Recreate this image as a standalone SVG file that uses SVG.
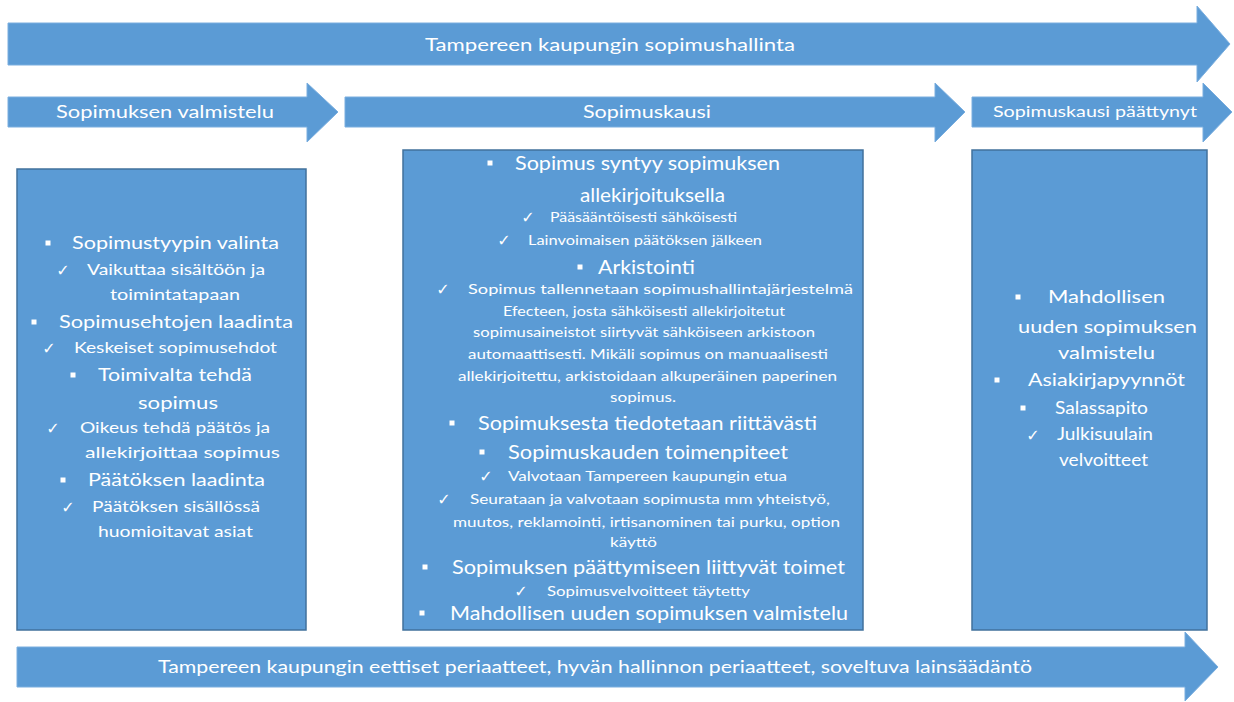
<svg xmlns="http://www.w3.org/2000/svg" width="1234" height="702" viewBox="0 0 1234 702">
<style>
.arr{fill:#5b9bd5;stroke:#7aaedf;stroke-width:1}
.box{fill:#5b9bd5;stroke:#41719c;stroke-width:1.5}
text{font-family:Lato,"Liberation Sans",sans-serif;fill:#fff}
.h{font-size:18px}
.m{font-size:18px}
.s{font-size:16px}
.m2{font-size:20px}
.s2{font-size:14px}
.m3{font-size:17px}
.ck{font-family:"DejaVu Sans",sans-serif;font-size:16px;text-anchor:middle}
.b{fill:#fff}
</style>
<defs>
<rect id="bul" x="-2.5" y="-2.5" width="5" height="5" class="b"/>
</defs>
<rect width="1234" height="702" fill="#fff"/>
<g id="connectors">
<polygon id="a-top" class="arr" points="8,23 1197,23 1197,6 1230,44 1197,82 1197,65 8,65"/>
<polygon id="a-valm" class="arr" points="8,97 307,97 307,83 338,112 307,142 307,127 8,127"/>
<polygon id="a-kausi" class="arr" points="345,97 935,97 935,83 965,112 935,142 935,127 345,127"/>
<polygon id="a-paat" class="arr" points="972,97 1203,97 1203,83 1232,112 1203,142 1203,127 972,127"/>
<polygon id="a-bottom" class="arr" points="17,647 1185,647 1185,632 1218,667 1185,701 1185,687 17,687"/>
</g>
<g id="arrow-labels">
<text class="h" x="425" y="51" textLength="370" lengthAdjust="spacingAndGlyphs">Tampereen kaupungin sopimushallinta</text>
<text class="h" x="56" y="118" textLength="218" lengthAdjust="spacingAndGlyphs">Sopimuksen valmistelu</text>
<text class="h" x="583" y="118" textLength="128" lengthAdjust="spacingAndGlyphs">Sopimuskausi</text>
<text style="font-size:15px" x="993" y="117" textLength="204" lengthAdjust="spacingAndGlyphs">Sopimuskausi päättynyt</text>
<text class="h" x="158" y="673" textLength="874" lengthAdjust="spacingAndGlyphs">Tampereen kaupungin eettiset periaatteet, hyvän hallinnon periaatteet, soveltuva lainsäädäntö</text>
</g>
<g id="box-valmistelu">
<rect class="box" x="17" y="169" width="289" height="461"/>
<use href="#bul" x="48" y="243"/>
<text class="m" x="72" y="249" textLength="207" lengthAdjust="spacingAndGlyphs">Sopimustyypin valinta</text>
<text class="ck" x="63" y="276">✓</text>
<text class="s" x="87" y="275" textLength="178" lengthAdjust="spacingAndGlyphs">Vaikuttaa sisältöön ja</text>
<text class="s" x="110" y="300" textLength="130" lengthAdjust="spacingAndGlyphs">toimintatapaan</text>
<use href="#bul" x="34" y="322"/>
<text class="m" x="59" y="328" textLength="234" lengthAdjust="spacingAndGlyphs">Sopimusehtojen laadinta</text>
<text class="ck" x="49" y="354">✓</text>
<text class="s" x="74" y="353" textLength="203" lengthAdjust="spacingAndGlyphs">Keskeiset sopimusehdot</text>
<use href="#bul" x="73" y="375"/>
<text class="m" x="98" y="381" textLength="154" lengthAdjust="spacingAndGlyphs">Toimivalta tehdä</text>
<text class="m" x="138" y="409" textLength="80" lengthAdjust="spacingAndGlyphs">sopimus</text>
<text class="ck" x="53" y="434">✓</text>
<text class="s" x="80" y="433" textLength="190" lengthAdjust="spacingAndGlyphs">Oikeus tehdä päätös ja</text>
<text class="s" x="85" y="458" textLength="195" lengthAdjust="spacingAndGlyphs">allekirjoittaa sopimus</text>
<use href="#bul" x="63" y="480"/>
<text class="m" x="88" y="486" textLength="177" lengthAdjust="spacingAndGlyphs">Päätöksen laadinta</text>
<text class="ck" x="68" y="513">✓</text>
<text class="s" x="92" y="512" textLength="168" lengthAdjust="spacingAndGlyphs">Päätöksen sisällössä</text>
<text class="s" x="98" y="537" textLength="155" lengthAdjust="spacingAndGlyphs">huomioitavat asiat</text>
</g>
<g id="box-sopimuskausi">
<rect class="box" x="403" y="150" width="460" height="480"/>
<use href="#bul" x="490" y="163"/>
<text class="m2" x="515" y="170" textLength="265" lengthAdjust="spacingAndGlyphs">Sopimus syntyy sopimuksen</text>
<text class="m2" x="580" y="202" textLength="145" lengthAdjust="spacingAndGlyphs">allekirjoituksella</text>
<text class="ck" x="528" y="223">✓</text>
<text class="s2" x="550" y="222" textLength="187" lengthAdjust="spacingAndGlyphs">Pääsääntöisesti sähköisesti</text>
<text class="ck" x="504" y="246">✓</text>
<text class="s2" x="528" y="245" textLength="234" lengthAdjust="spacingAndGlyphs">Lainvoimaisen päätöksen jälkeen</text>
<use href="#bul" x="580" y="267"/>
<text class="m2" x="598" y="274" textLength="97" lengthAdjust="spacingAndGlyphs">Arkistointi</text>
<text class="ck" x="443" y="295">✓</text>
<text class="s2" x="468" y="294" textLength="385" lengthAdjust="spacingAndGlyphs">Sopimus tallennetaan sopimushallintajärjestelmä</text>
<text class="s2" x="503" y="316" textLength="282" lengthAdjust="spacingAndGlyphs">Efecteen, josta sähköisesti allekirjoitetut</text>
<text class="s2" x="473" y="337" textLength="342" lengthAdjust="spacingAndGlyphs">sopimusaineistot siirtyvät sähköiseen arkistoon</text>
<text class="s2" x="468" y="359" textLength="360" lengthAdjust="spacingAndGlyphs">automaattisesti. Mikäli sopimus on manuaalisesti</text>
<text class="s2" x="458" y="381" textLength="379" lengthAdjust="spacingAndGlyphs">allekirjoitettu, arkistoidaan alkuperäinen paperinen</text>
<text class="s2" x="610" y="402" textLength="66" lengthAdjust="spacingAndGlyphs">sopimus.</text>
<use href="#bul" x="452" y="423"/>
<text class="m2" x="478" y="430" textLength="339" lengthAdjust="spacingAndGlyphs">Sopimuksesta tiedotetaan riittävästi</text>
<use href="#bul" x="482" y="452"/>
<text class="m2" x="508" y="459" textLength="280" lengthAdjust="spacingAndGlyphs">Sopimuskauden toimenpiteet</text>
<text class="ck" x="486" y="482">✓</text>
<text class="s2" x="508" y="481" textLength="279" lengthAdjust="spacingAndGlyphs">Valvotaan Tampereen kaupungin etua</text>
<text class="ck" x="444" y="505">✓</text>
<text class="s2" x="470" y="504" textLength="360" lengthAdjust="spacingAndGlyphs">Seurataan ja valvotaan sopimusta mm yhteistyö,</text>
<text class="s2" x="453" y="527" textLength="387" lengthAdjust="spacingAndGlyphs">muutos, reklamointi, irtisanominen tai purku, option</text>
<text class="s2" x="610" y="547" textLength="47" lengthAdjust="spacingAndGlyphs">käyttö</text>
<use href="#bul" x="425" y="567"/>
<text class="m2" x="452" y="574" textLength="393" lengthAdjust="spacingAndGlyphs">Sopimuksen päättymiseen liittyvät toimet</text>
<text class="ck" x="521" y="597">✓</text>
<text class="s2" x="547" y="596" textLength="203" lengthAdjust="spacingAndGlyphs">Sopimusvelvoitteet täytetty</text>
<use href="#bul" x="422" y="613"/>
<text class="m2" x="450" y="620" textLength="398" lengthAdjust="spacingAndGlyphs">Mahdollisen uuden sopimuksen valmistelu</text>
</g>
<g id="box-paattynyt">
<rect class="box" x="972" y="150" width="235" height="480"/>
<use href="#bul" x="1018" y="297"/>
<text class="m3" x="1048" y="303" textLength="117" lengthAdjust="spacingAndGlyphs">Mahdollisen</text>
<text class="m3" x="1018" y="333" textLength="179" lengthAdjust="spacingAndGlyphs">uuden sopimuksen</text>
<text class="m3" x="1058" y="359" textLength="97" lengthAdjust="spacingAndGlyphs">valmistelu</text>
<use href="#bul" x="997" y="380"/>
<text class="m3" x="1028" y="386" textLength="157" lengthAdjust="spacingAndGlyphs">Asiakirjapyynnöt</text>
<use href="#bul" x="1023" y="408"/>
<text class="m3" x="1055" y="414" textLength="93" lengthAdjust="spacingAndGlyphs">Salassapito</text>
<text class="ck" x="1033" y="441">✓</text>
<text class="m3" x="1057" y="440" textLength="96" lengthAdjust="spacingAndGlyphs">Julkisuulain</text>
<text class="m3" x="1059" y="466" textLength="89" lengthAdjust="spacingAndGlyphs">velvoitteet</text>
</g>
</svg>
